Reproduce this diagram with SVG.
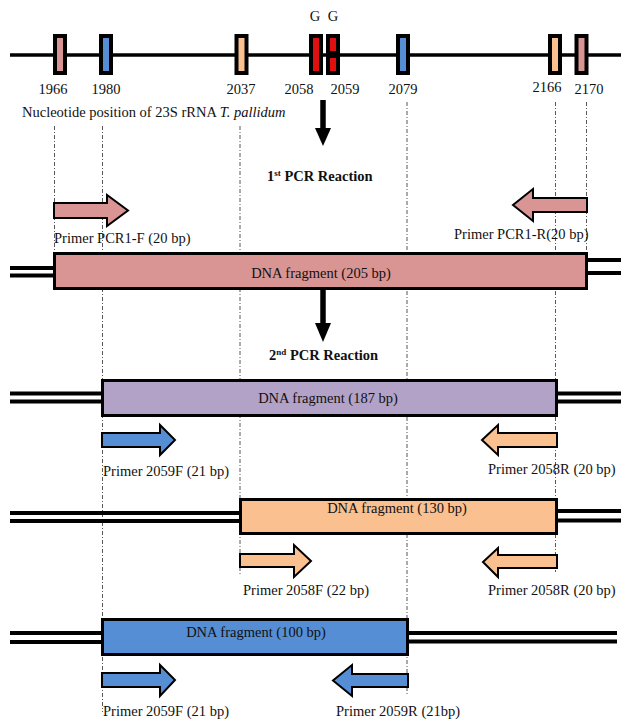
<svg xmlns="http://www.w3.org/2000/svg" width="621" height="720" viewBox="0 0 621 720">
  <style>
    text { font-family: "Liberation Serif", "Times New Roman", serif; font-size: 14.5px; fill: #111; }
    .bold { font-weight: bold; }
    .mid { text-anchor: middle; }
    .guide { stroke: #444; stroke-width: 0.9; stroke-dasharray: 4 2 1 2; fill: none; }
    .strand { stroke: #000; stroke-width: 4; fill: none; }
    .frag { stroke: #000; stroke-width: 3; }
    .primer { stroke: #000; stroke-width: 2; stroke-linejoin: miter; }
    .mark { stroke: #000; stroke-width: 4; }
    .pink { fill: #d99594; }
    .purple { fill: #b3a2c7; }
    .peach { fill: #fac08f; }
    .blue { fill: #558ed5; }
    .red { fill: #e01010; }
  </style>

  <rect width="621" height="720" fill="#fff"/>

  <!-- 23S rRNA track with nucleotide positions -->
  <g id="rrna-track">
    <line x1="10" y1="55" x2="621" y2="55" stroke="#000" stroke-width="3.5"/>
    <g id="pos-1966"><rect class="mark pink" x="55" y="36" width="10" height="37"/><text class="mid" x="53" y="94">1966</text></g>
    <g id="pos-1980"><rect class="mark blue" x="101" y="36" width="10" height="37"/><text class="mid" x="106" y="94">1980</text></g>
    <g id="pos-2037"><rect class="mark peach" x="236.5" y="36" width="10" height="37"/><text class="mid" x="241" y="94">2037</text></g>
    <g id="pos-2058"><rect class="mark red" x="311" y="36" width="10" height="37"/><text class="mid" x="299" y="94">2058</text><text class="mid" x="315" y="21">G</text></g>
    <g id="pos-2059"><rect class="mark red" x="328" y="36" width="10" height="37"/><rect x="330" y="51" width="6" height="7" fill="#000"/><text class="mid" x="345" y="94">2059</text><text class="mid" x="333" y="21">G</text></g>
    <g id="pos-2079"><rect class="mark blue" x="398" y="36" width="10" height="37"/><text class="mid" x="403" y="94">2079</text></g>
    <g id="pos-2166"><rect class="mark peach" x="550" y="36" width="10" height="37"/><text class="mid" x="547" y="92">2166</text></g>
    <g id="pos-2170"><rect class="mark pink" x="576.5" y="36" width="10" height="37"/><text class="mid" x="589" y="94">2170</text></g>
    <text x="22" y="117">Nucleotide position of 23S rRNA <tspan font-style="italic">T. pallidum</tspan></text>
  </g>

  <!-- guide lines and step arrows -->
  <g id="connectors">
    <line class="guide" x1="54.5" y1="126" x2="54.5" y2="252"/>
    <line class="guide" x1="102.5" y1="126" x2="102.5" y2="712"/>
    <line class="guide" x1="240" y1="126" x2="240" y2="575"/>
    <line class="guide" x1="407" y1="102" x2="407" y2="695"/>
    <line class="guide" x1="555.5" y1="102" x2="555.5" y2="572"/>
    <line class="guide" x1="586.5" y1="102" x2="586.5" y2="252"/>

    <line x1="323" y1="100" x2="323" y2="130" stroke="#000" stroke-width="5.5"/>
    <polygon points="315,128 331,128 323,146" fill="#000"/>
    <line x1="323" y1="290" x2="323" y2="325" stroke="#000" stroke-width="5.5"/>
    <polygon points="315,323 331,323 323,342" fill="#000"/>
  </g>

  <!-- 1st PCR -->
  <g id="step1-label"><text class="bold" x="267" y="181">1<tspan font-size="9" dy="-5">st</tspan><tspan dy="5"> PCR Reaction</tspan></text></g>

  <g id="primer-pcr1-f">
    <polygon class="primer pink" points="54,203 107,203 107,195 128,210.5 107,226 107,218 54,218"/>
    <text x="54" y="243">Primer PCR1-F (20 bp)</text>
  </g>
  <g id="primer-pcr1-r">
    <polygon class="primer pink" points="587,198 533,198 533,189 513,205 533,221 533,212 587,212"/>
    <text x="454" y="239">Primer PCR1-R(20 bp)</text>
  </g>

  <g id="fragment-205">
    <line class="strand" x1="10" y1="268" x2="55" y2="268"/>
    <line class="strand" x1="10" y1="275.5" x2="55" y2="275.5"/>
    <line class="strand" x1="587" y1="260" x2="621" y2="260"/>
    <line class="strand" x1="587" y1="273" x2="621" y2="273"/>
    <rect class="frag pink" x="54.5" y="253.5" width="532" height="35"/>
    <text class="mid" x="321" y="278">DNA fragment (205 bp)</text>
  </g>

  <!-- 2nd PCR -->
  <g id="step2-label"><text class="bold" x="269" y="360">2<tspan font-size="9" dy="-5">nd</tspan><tspan dy="5"> PCR Reaction</tspan></text></g>

  <g id="fragment-187">
    <line class="strand" x1="10" y1="393.5" x2="102" y2="393.5"/>
    <line class="strand" x1="10" y1="401.5" x2="102" y2="401.5"/>
    <line class="strand" x1="557" y1="393.5" x2="621" y2="393.5"/>
    <line class="strand" x1="557" y1="401.5" x2="621" y2="401.5"/>
    <rect class="frag purple" x="102.5" y="380.5" width="454" height="35"/>
    <text class="mid" x="328" y="403">DNA fragment (187 bp)</text>
  </g>
  <g id="primer-2059f-a">
    <polygon class="primer blue" points="102,433 160,433 160,425 175,440 160,455 160,447 102,447"/>
    <text x="103" y="476">Primer 2059F (21 bp)</text>
  </g>
  <g id="primer-2058r-a">
    <polygon class="primer peach" points="557,433 498,433 498,425 482,440 498,455 498,447 557,447"/>
    <text x="488" y="474">Primer 2058R (20 bp)</text>
  </g>

  <g id="fragment-130">
    <line class="strand" x1="10" y1="513" x2="240" y2="513" stroke-width="5"/>
    <line class="strand" x1="10" y1="521" x2="240" y2="521" stroke-width="5"/>
    <line class="strand" x1="556" y1="511" x2="621" y2="511" stroke-width="5"/>
    <line class="strand" x1="556" y1="520.5" x2="621" y2="520.5" stroke-width="5"/>
    <rect class="frag peach" x="240.5" y="499.5" width="316" height="34"/>
    <text class="mid" x="397" y="513">DNA fragment (130 bp)</text>
  </g>
  <g id="primer-2058f">
    <polygon class="primer peach" points="240,554 294,554 294,545 311,561 294,577 294,567 240,567"/>
    <text x="243" y="595">Primer 2058F (22 bp)</text>
  </g>
  <g id="primer-2058r-b">
    <polygon class="primer peach" points="557,555 498,555 498,548 483,562 498,577 498,568 557,568"/>
    <text x="488" y="595">Primer 2058R (20 bp)</text>
  </g>

  <g id="fragment-100">
    <line class="strand" x1="10" y1="633" x2="102" y2="633"/>
    <line class="strand" x1="10" y1="642" x2="102" y2="642"/>
    <line class="strand" x1="407" y1="633" x2="617" y2="633"/>
    <line class="strand" x1="407" y1="641.5" x2="617" y2="641.5"/>
    <rect class="frag blue" x="102.5" y="619.5" width="305" height="35"/>
    <text class="mid" x="256" y="637">DNA fragment (100 bp)</text>
  </g>
  <g id="primer-2059f-b">
    <polygon class="primer blue" points="102,673 160,673 160,665 175,680 160,696 160,687 102,687"/>
    <text x="103" y="716">Primer 2059F (21 bp)</text>
  </g>
  <g id="primer-2059r">
    <polygon class="primer blue" points="408,674 352,674 352,665 333,680.5 352,696 352,687 408,687"/>
    <text x="336" y="716">Primer 2059R (21bp)</text>
  </g>
</svg>
